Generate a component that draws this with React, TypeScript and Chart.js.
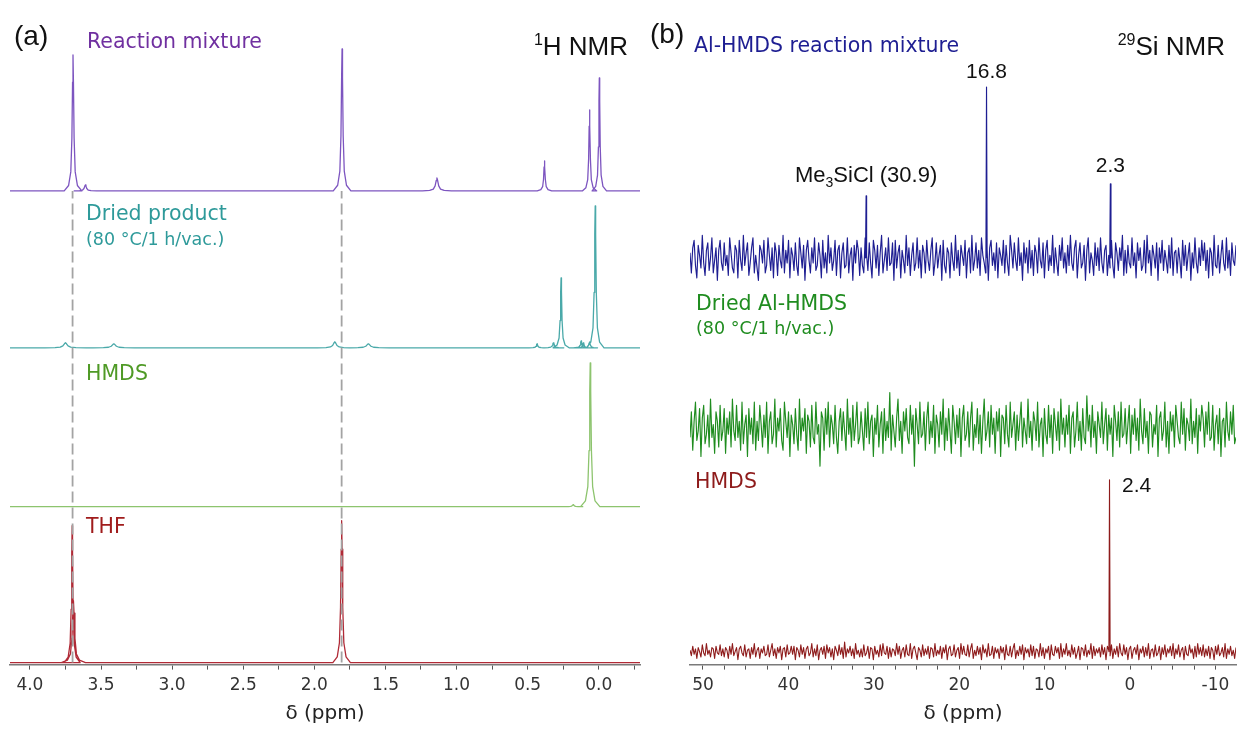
import React, { useEffect, useRef } from "react";
import { Chart, registerables } from "chart.js";
Chart.register(...registerables);

/* ================= (a) 1H NMR ================= */
const H_MIN = -0.29;
const H_MAX = 4.14;
const H_PX_PER_PPM = 142.1;
const hTickValues = [4.0, 3.5, 3.0, 2.5, 2.0, 1.5, 1.0, 0.5, 0.0];
const hTickLabels = ["4.0", "3.5", "3.0", "2.5", "2.0", "1.5", "1.0", "0.5", "0.0"];

// Reaction mixture (purple)
const reactionPpm = [3.697, 3.61, 1.805, 1.138, 0.382, 0.065, -0.004];
const reactionHeight = [136, 6, 142, 13, 30, 81, 113];
const reactionWidth = [1.1, 1.4, 1.1, 1.8, 0.9, 0.9, 0.9];

// Dried product (teal)
const driedPpm = [3.75, 3.41, 1.856, 1.62, 0.434, 0.319, 0.265, 0.124, 0.108, 0.065, 0.025];
const driedHeight = [5, 4, 6, 4, 4, 5, 70, 7, 5, 6, 142];
const driedWidth = [2.6, 2.6, 2.2, 2.6, 1.0, 1.3, 1.0, 1.0, 1.0, 1.0, 1.1];

// HMDS (green)
const hmdsPpm = [0.18, 0.06];
const hmdsHeight = [2, 144];
const hmdsWidth = [1.2, 1.2];

// THF (red)
const thfPpm = [3.703, 3.694, 1.808];
const thfHeight = [137, 62, 142];
const thfWidth = [1.0, 1.5, 1.1];

// THF reference positions (dashed guide lines)
const thfGuidePpm = [3.70, 1.808];

// vertical stacking offsets of the four traces
const hOffsets = [474, 317, 158, 2];

// Lorentzian-like line shape template (offset in px, fraction of height)
const SHAPE_PX = [-8, -4, -2, -1, -0.4, 0, 0.4, 1, 2, 4, 8];
const SHAPE_FRAC = [0, 0.04, 0.14, 0.39, 0.8, 1, 0.8, 0.39, 0.14, 0.04, 0];

/* ================= (b) 29Si NMR ================= */
const SI_MIN = -12.41;
const SI_MAX = 51.52;
const siTickLabels = ["50", "40", "30", "20", "10", "0", "-10"];
const siTickValues = [50, 40, 30, 20, 10, 0, -10];

const siNoiseBlue = [
  2,-6,4,7,-3,-8,5,1,-4,9,-2,-7,3,6,-5,0,8,-6,-1,4,-9,3,7,-2,-5,
  6,-3,1,-7,8,2,-4,-6,5,3,-8,7,-1,-5,9,-3,2,6,-7,-2,4,8,-6,1,-4,
  -9,5,3,-2,7,-6,-3,8,1,-5,4,-8,6,2,-7,5,-1,-4,9,-6,3,-2,7,-8,4,
  1,-5,6,-3,-7,8,2,-4,5,-9,3,7,-1,-6,4,-2,8,-5,-3,6,1,-8,7,-4,2,
  -6,9,-2,4,-5,-1,7,-7,3,5,-8,2,6,-4,-3,8,-6,1,4,-9,5,-2,7,3,-7,
  4,-3,-6,8,1,-5,6,-2,-8,7,3,-4,5,-7,2,9,-6,-1,4,-5,8,-3,-2,6,-9,
  7,-4,2,5,-8,3,-1,-6,9,-3,4,-7,1,6,-5,-2,8,-4,3,-8,5,2,-6,7,-1,
  -5,3,8,-7,-2,6,-4,1,5,-9,7,-3,-6,4,2,-8,6,-1,-5,9,-4,3,-7,5,1,
  -3,7,-8,2,4,-6,9,-5,-1,6,-4,3,-7,8,1,-2,-6,5,-9,4,7,-3,2,-5,6,
  -8,4,1,-3,7,-6,5,-2,-7,9,3,-4,6,-1,-5,8,-3,2,-9,6,-2,4,-6,7,-4,
  3,-7,5,2,-6,8,-1,-4,6,-8,3,7,-5,1,-3,9,-6,4,-2,-7,5,-1,8,-4,2,
  -6,5,-3,9,-2,-5,4,7,-8,1,6,-4,-2,5,-9,3,8,-6,2,-1,-7,6,-3,4,-5,
  8,-2,-6,3,5,-7,1,-4,7,-3,-8,6,2,-5,4,-1,9,-7,3,-6,5,-2,-4,8,-3,
  2,-8,6,-1,4,-5,-3,7,-6,9,-2,3,-7,5,1,-4,6,-9,4,-2,7,-5,3,-1,-6,
  5,-4,8,-7,2,3,-6,4,-1,-8,7,-3,5,-5,1,6,-9,2,-4,8,-2,-6,4,-3,7,
  -1,6,-5,3,-8,4,2,-7,9,-3,-4,5,-6,1,7,-2,-5,8,-4,3,-7,6,-1,-3,5
];
const siNoiseGreen = [
  -3,5,-7,2,8,-4,-1,6,-9,3,7,-5,-2,4,-6,9,-3,1,-8,5,2,-6,7,-4,-1,
  6,-8,3,-2,5,-6,9,-1,-4,7,-3,2,-7,8,-5,1,4,-9,6,-2,3,-5,8,-7,2,
  -4,7,1,-6,4,-3,8,-8,2,5,-5,-2,9,-6,3,-1,6,-4,-7,8,2,-3,5,-9,4,
  1,-5,6,-2,-7,9,-4,3,-1,6,-8,4,2,-6,7,-3,-5,8,-2,1,-12,5,3,-7,6,
  -2,8,-6,4,1,-5,7,-3,-8,2,6,-4,5,-1,-7,9,-2,3,-6,7,-4,1,8,-5,-3,
  5,-1,-7,6,-3,8,-5,2,4,-9,3,-2,7,-6,1,5,-8,6,-4,2,-3,11,-7,4,-1,
  -6,3,9,-4,2,-8,5,-1,6,-3,-5,7,-2,4,-12,6,1,-5,8,-3,-2,5,-7,3,8,
  -5,2,-3,7,-8,4,1,-6,5,-2,9,-7,3,-4,6,-1,-8,7,2,-5,4,-3,6,-9,3,
  7,-4,-2,5,-6,3,8,-7,1,-3,6,-5,4,-8,2,9,-4,-1,5,-6,7,-2,3,-8,5,
  -1,6,-9,4,3,-5,7,-2,-6,8,-3,1,5,-7,4,-4,2,8,-6,3,-1,-5,9,-3,2,
  -7,5,2,-4,8,-6,1,3,-9,6,-2,-5,7,-3,4,-8,6,1,-4,5,-7,9,-2,3,-6,
  4,-2,7,-8,3,5,-6,-1,8,-4,2,-7,6,-3,-5,10,-1,4,-6,7,-3,2,-8,5,1,
  -3,8,-5,1,6,-7,4,-2,3,-9,7,2,-4,5,-6,8,-3,-2,6,-5,1,7,-8,4,-2,
  6,-4,3,-7,9,-1,-5,6,-3,2,-8,5,4,-6,1,-2,7,-9,3,5,-4,-1,8,-6,2,
  -8,5,-1,4,-6,7,2,-3,-5,8,-2,6,-7,3,1,-4,9,-5,2,-3,6,-8,4,-1,7,
  3,-6,5,-2,8,-4,-3,7,-7,1,4,-5,6,-9,2,3,-6,8,-1,-4,5,-2,7,-5,-3
];
const siNoiseRed = [
  1,-3,4,-2,2,-5,3,0,-4,5,-1,-3,6,-2,1,-4,3,2,-5,4,-1,-2,5,-3,2,
  -4,3,1,-5,4,-2,6,-3,0,3,-6,2,4,-1,-3,5,-4,1,2,-5,3,-2,6,-4,1,
  3,-5,2,-1,4,-3,-2,5,-4,1,6,-3,2,-5,3,-1,4,-6,2,3,-4,5,-2,-1,4,
  -2,4,-6,3,1,-4,5,-2,3,-5,2,4,-3,-1,6,-4,2,-3,5,-6,1,3,-2,4,-5,
  5,-1,3,-4,2,-6,4,1,-3,5,-2,3,-5,7,-4,2,-1,4,-3,2,-5,6,-2,1,-4,
  2,-4,5,-3,-1,4,-5,3,2,-6,4,-2,1,-4,5,-3,6,-1,-2,4,-5,3,-4,2,1,
  -3,6,-2,4,-5,1,3,-4,5,-2,-3,6,-5,2,4,-1,-6,3,1,-4,5,-3,2,-2,4,
  -5,3,2,-4,6,-3,1,-2,4,-5,3,-1,5,-6,2,4,-3,-2,5,-4,1,3,-5,6,-2,
  4,-2,-3,5,-4,2,6,-5,1,-3,4,-2,3,-6,5,-1,2,-4,6,-3,-2,4,-5,3,-1,
  2,-5,4,-1,3,-6,5,-2,-3,4,-4,2,6,-5,1,-3,4,-2,5,-6,3,-1,2,-4,5,
  -3,4,-5,2,1,-4,6,-3,3,-5,2,-1,4,-6,5,-2,-3,4,-1,3,-5,6,-4,2,-2,
  6,-3,1,-4,5,-2,3,-5,-1,4,-6,3,2,-3,5,-4,1,-2,6,-5,4,-3,2,-1,3,
  -4,5,-2,3,-6,4,1,-3,5,-5,2,-2,4,-4,6,-1,-3,5,-2,3,-6,2,4,-5,1,
  3,-2,5,-6,2,-1,4,-4,3,-3,6,-5,1,2,-4,5,-3,-1,4,-6,3,-2,5,-4,2,
  -1,4,-3,6,-5,2,-2,5,-4,1,3,-6,4,-2,-3,5,-1,2,-5,4,-4,6,-2,3,-3,
  5,-4,2,-3,4,-5,3,1,-6,4,-2,5,-3,-1,3,-4,6,-5,2,-2,4,-3,1,-5,3
];
const siNoiseScale = [2.5, 3.2, 1.35];
const siOffsets = [407, 237, 13];

const siBluePeakPpm = [30.9, 16.8, 2.3];
const siBluePeakHeight = [62, 171, 74];
const siRedPeakPpm = [2.4];
const siRedPeakHeight = [172];

/* ================= styling ================= */
const VERDANA = '"DejaVu Sans", Verdana, sans-serif';
const ARIAL = '"Liberation Sans", Arial, sans-serif';
const C = {
  purple: "#7d55c0",
  purpleText: "#7030a0",
  teal: "#4aa9a9",
  tealText: "#2e9a9a",
  lgreen: "#8dc46e",
  lgreenText: "#4f9a26",
  thf: "#b02a36",
  thfText: "#a01c1c",
  navy: "#1e1e92",
  dgreen: "#1f8c1f",
  dred: "#8e1b1b",
  guide: "#a3a3a3",
  axis: "#7a7a7a",
  tick: "#555555",
  text: "#222222",
};

type Pt = { x: number; y: number };

function hTrace(ppm: number[], h: number[], w: number[], offset: number): Pt[] {
  const order = ppm.map((_, i) => i).sort((a, b) => ppm[b] - ppm[a]);
  const pts: Pt[] = [{ x: H_MAX, y: offset }];
  for (const i of order) {
    for (let k = 0; k < SHAPE_PX.length; k++) {
      pts.push({ x: ppm[i] - (SHAPE_PX[k] * w[i]) / H_PX_PER_PPM, y: offset + h[i] * SHAPE_FRAC[k] });
    }
  }
  pts.push({ x: H_MIN, y: offset });
  return pts;
}

function siTrace(noise: number[], scale: number, offset: number, pPpm: number[], pH: number[]): Pt[] {
  const n = noise.length;
  const step = (SI_MAX - SI_MIN) / (n - 1);
  const pts: Pt[] = noise.map((v, i) => ({ x: SI_MAX - i * step, y: offset + v * scale }));
  pPpm.forEach((p, k) => {
    const idx = pts.findIndex((q) => q.x < p);
    pts.splice(idx, 0, { x: p + 0.07, y: offset }, { x: p, y: offset + pH[k] }, { x: p - 0.07, y: offset });
  });
  return pts;
}

type Seg = { t: string; size: number; family: string; dy?: number };
type Label = { segs: Seg[]; x?: number; ppm?: number; y: number; color: string; align: "left" | "center" | "right" };

function drawLabels(chart: any, labels: Label[]) {
  const ctx: CanvasRenderingContext2D = chart.ctx;
  ctx.save();
  ctx.textBaseline = "alphabetic";
  ctx.textAlign = "left";
  for (const L of labels) {
    const widths = L.segs.map((s) => {
      ctx.font = `${s.size}px ${s.family}`;
      return ctx.measureText(s.t).width;
    });
    const total = widths.reduce((a, b) => a + b, 0);
    let x = L.ppm !== undefined ? chart.scales.x.getPixelForValue(L.ppm) : (L.x as number);
    if (L.align === "center") x -= total / 2;
    if (L.align === "right") x -= total;
    ctx.fillStyle = L.color;
    L.segs.forEach((s, i) => {
      ctx.font = `${s.size}px ${s.family}`;
      ctx.fillText(s.t, x, L.y + (s.dy || 0));
      x += widths[i];
    });
  }
  ctx.restore();
}

const LBL = 20.5;
const SUB = 17.5;

const labelsA: Label[] = [
  { segs: [{ t: "(a)", size: 28, family: ARIAL }], x: 14, y: 45, color: "#111", align: "left" },
  { segs: [{ t: "Reaction mixture", size: LBL, family: VERDANA }], x: 87, y: 48, color: C.purpleText, align: "left" },
  {
    segs: [
      { t: "1", size: 16, family: ARIAL, dy: -10 },
      { t: "H NMR", size: 26, family: ARIAL },
    ],
    x: 628, y: 55, color: "#111", align: "right",
  },
  { segs: [{ t: "Dried product", size: LBL, family: VERDANA }], x: 86, y: 220, color: C.tealText, align: "left" },
  { segs: [{ t: "(80 °C/1 h/vac.)", size: SUB, family: VERDANA }], x: 86, y: 245, color: C.tealText, align: "left" },
  { segs: [{ t: "HMDS", size: LBL, family: VERDANA }], x: 86, y: 380, color: C.lgreenText, align: "left" },
  { segs: [{ t: "THF", size: LBL, family: VERDANA }], x: 86, y: 533, color: C.thfText, align: "left" },
];

const OFFB = 645;
const labelsB: Label[] = [
  { segs: [{ t: "(b)", size: 28, family: ARIAL }], x: 650 - OFFB, y: 43, color: "#111", align: "left" },
  { segs: [{ t: "Al-HMDS reaction mixture", size: LBL, family: VERDANA }], x: 694 - OFFB, y: 52, color: C.navy, align: "left" },
  {
    segs: [
      { t: "29", size: 16, family: ARIAL, dy: -10 },
      { t: "Si NMR", size: 26, family: ARIAL },
    ],
    x: 1225 - OFFB, y: 55, color: "#111", align: "right",
  },
  { segs: [{ t: "16.8", size: 21, family: ARIAL }], ppm: 16.8, y: 78, color: "#111", align: "center" },
  {
    segs: [
      { t: "Me", size: 22, family: ARIAL },
      { t: "3", size: 14, family: ARIAL, dy: 5 },
      { t: "SiCl (30.9)", size: 22, family: ARIAL },
    ],
    ppm: 30.9, y: 182, color: "#111", align: "center",
  },
  { segs: [{ t: "2.3", size: 21, family: ARIAL }], ppm: 2.3, y: 172, color: "#111", align: "center" },
  { segs: [{ t: "Dried Al-HMDS", size: LBL, family: VERDANA }], x: 696 - OFFB, y: 310, color: C.dgreen, align: "left" },
  { segs: [{ t: "(80 °C/1 h/vac.)", size: SUB, family: VERDANA }], x: 696 - OFFB, y: 334, color: C.dgreen, align: "left" },
  { segs: [{ t: "HMDS", size: LBL, family: VERDANA }], x: 695 - OFFB, y: 488, color: C.dred, align: "left" },
  { segs: [{ t: "2.4", size: 21, family: ARIAL }], x: 1122 - OFFB, y: 492, color: "#111", align: "left" },
];

function lineDs(data: Pt[], color: string, width = 1.3, dash: number[] = []) {
  return {
    data,
    borderColor: color,
    borderWidth: width,
    borderDash: dash,
    borderJoinStyle: "round",
    borderCapStyle: "butt",
    pointRadius: 0,
    tension: 0,
    fill: false,
  };
}

function xScale(min: number, max: number, step: number, values: number[], labels: string[]) {
  return {
    type: "linear" as const,
    min,
    max,
    reverse: true,
    border: { display: true, color: C.axis, width: 1.5 },
    grid: { display: true, drawOnChartArea: false, drawTicks: true, tickLength: 5, color: C.tick },
    ticks: {
      stepSize: step,
      autoSkip: false,
      maxRotation: 0,
      includeBounds: false,
      padding: 6,
      color: "#333",
      font: { family: VERDANA, size: 17 },
      callback: (v: any) => {
        const i = values.findIndex((t) => Math.abs(t - Number(v)) < 1e-6);
        return i >= 0 ? labels[i] : "";
      },
    },
    title: {
      display: true,
      text: "δ (ppm)",
      color: C.text,
      font: { family: VERDANA, size: 20 },
      padding: { top: 0, bottom: 0 },
    },
  };
}

const yScale = { type: "linear" as const, display: false, min: 0, max: 625 };

function configA(): any {
  const guides = thfGuidePpm.map((p) =>
    lineDs([{ x: p, y: hOffsets[3] }, { x: p, y: hOffsets[0] }], C.guide, 1.8, [11, 5])
  );
  return {
    type: "line",
    data: {
      datasets: [
        ...guides,
        lineDs(hTrace(reactionPpm, reactionHeight, reactionWidth, hOffsets[0]), C.purple),
        lineDs(hTrace(driedPpm, driedHeight, driedWidth, hOffsets[1]), C.teal),
        lineDs(hTrace(hmdsPpm, hmdsHeight, hmdsWidth, hOffsets[2]), C.lgreen),
        lineDs(hTrace(thfPpm, thfHeight, thfWidth, hOffsets[3]), C.thf),
      ],
    },
    options: {
      animation: false,
      responsive: true,
      maintainAspectRatio: false,
      parsing: false,
      normalized: false,
      layout: { padding: { left: 10, right: 2, top: 40, bottom: 3 } },
      plugins: { legend: { display: false }, tooltip: { enabled: false } },
      scales: { x: xScale(H_MIN, H_MAX, 0.25, hTickValues, hTickLabels), y: yScale },
    },
    plugins: [{ id: "labelsA", afterDraw: (c: any) => drawLabels(c, labelsA) }],
  };
}

function configB(): any {
  return {
    type: "line",
    data: {
      datasets: [
        lineDs(siTrace(siNoiseBlue, siNoiseScale[0], siOffsets[0], siBluePeakPpm, siBluePeakHeight), C.navy, 1.15),
        lineDs(siTrace(siNoiseGreen, siNoiseScale[1], siOffsets[1], [], []), C.dgreen, 1.15),
        lineDs(siTrace(siNoiseRed, siNoiseScale[2], siOffsets[2], siRedPeakPpm, siRedPeakHeight), C.dred, 1.1),
      ],
    },
    options: {
      animation: false,
      responsive: true,
      maintainAspectRatio: false,
      parsing: false,
      normalized: false,
      layout: { padding: { left: 45, right: 2, top: 40, bottom: 3 } },
      plugins: { legend: { display: false }, tooltip: { enabled: false } },
      scales: { x: xScale(SI_MIN, SI_MAX, 2.5, siTickValues, siTickLabels), y: yScale },
    },
    plugins: [{ id: "labelsB", afterDraw: (c: any) => drawLabels(c, labelsB) }],
  };
}

export default function App() {
  const aRef = useRef<HTMLCanvasElement>(null);
  const bRef = useRef<HTMLCanvasElement>(null);
  useEffect(() => {
    const ca = new Chart(aRef.current as HTMLCanvasElement, configA());
    const cb = new Chart(bRef.current as HTMLCanvasElement, configB());
    return () => {
      ca.destroy();
      cb.destroy();
    };
  }, []);
  return (
    <div style={{ position: "absolute", left: 0, top: 0, width: 1238, height: 729, background: "#fff", overflow: "hidden" }}>
      <div style={{ position: "absolute", left: 0, top: 0, width: 642, height: 729 }}>
        <canvas ref={aRef} />
      </div>
      <div style={{ position: "absolute", left: OFFB, top: 0, width: 593, height: 729 }}>
        <canvas ref={bRef} />
      </div>
    </div>
  );
}
